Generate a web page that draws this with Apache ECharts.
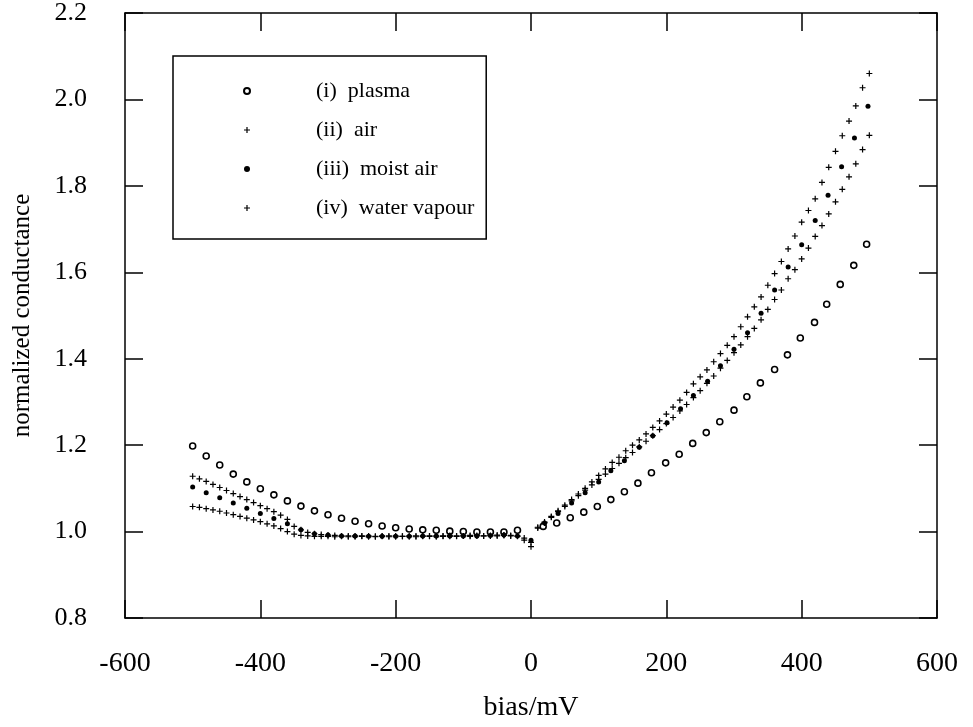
<!DOCTYPE html>
<html>
<head>
<meta charset="utf-8">
<script src="https://cdn.jsdelivr.net/npm/echarts@6/dist/echarts.min.js"></script>
<style>
	html, body { margin: 0; padding: 0; background: #fff; }
	#chart { width: 973px; height: 727px; }
</style>
</head>
<body>
<div id="chart"></div>
<script>
// bias (mV) and normalized conductance
const plasmaBias = [-500, -480, -460, -440, -420, -400, -380, -360, -340, -320, -300, -280, -260, -240, -220, -200, -180, -160, -140, -120, -100, -80, -60, -40, -20,
	18, 38, 58, 78, 98, 118, 138, 158, 178, 199, 219, 239, 259, 279, 300, 319, 339, 360, 379, 398, 419, 437, 457, 477, 496];
const plasmaG = [1.198, 1.175, 1.154, 1.133, 1.115, 1.099, 1.085, 1.071, 1.059, 1.048, 1.039, 1.031, 1.024, 1.018, 1.013, 1.009, 1.006, 1.004, 1.003, 1.001, 1.0, 0.999, 0.999, 0.999, 1.003,
	1.012, 1.02, 1.032, 1.045, 1.058, 1.074, 1.092, 1.112, 1.136, 1.159, 1.179, 1.204, 1.229, 1.254, 1.281, 1.312, 1.344, 1.375, 1.409, 1.448, 1.484, 1.526, 1.572, 1.616, 1.665];

const airBias = [-500, -490, -480, -470, -460, -450, -440, -430, -420, -410, -400, -390, -380, -370, -360, -350, -340, -330, -320, -310, -300, -290, -280, -270, -260, -250, -240, -230, -220, -210, -200, -190, -180, -170, -160, -150, -140, -130, -120, -110, -100, -90, -80, -70, -60, -50, -40, -30, -20, -10, 0,
	10, 20, 30, 40, 50, 60, 70, 80, 90, 100, 110, 120, 130, 140, 150, 160, 170, 180, 190, 200, 210, 220, 230, 240, 250, 260, 270, 280, 290, 300, 310, 320, 330, 340, 350, 360, 370, 380, 390, 400, 410, 420, 430, 440, 450, 460, 470, 480, 490, 500];
const airG = [1.058, 1.056, 1.053, 1.05, 1.047, 1.043, 1.039, 1.035, 1.031, 1.027, 1.023, 1.018, 1.013, 1.007, 1.0, 0.994, 0.991, 0.99, 0.989, 0.989, 0.989, 0.988, 0.989, 0.988, 0.988, 0.989, 0.988, 0.988, 0.989, 0.988, 0.988, 0.989, 0.988, 0.988, 0.989, 0.989, 0.988, 0.989, 0.989, 0.989, 0.99, 0.989, 0.99, 0.99, 0.99, 0.99, 0.991, 0.99, 0.989, 0.985, 0.975,
	1.008, 1.02, 1.033, 1.046, 1.058, 1.071, 1.083, 1.096, 1.108, 1.121, 1.133, 1.146, 1.158, 1.171, 1.183, 1.196, 1.209, 1.222, 1.236, 1.25, 1.264, 1.279, 1.294, 1.31, 1.326, 1.343, 1.36, 1.378, 1.396, 1.414, 1.432, 1.451, 1.47, 1.49, 1.514, 1.537, 1.559, 1.585, 1.606, 1.631, 1.656, 1.683, 1.708, 1.735, 1.763, 1.792, 1.821, 1.851, 1.884, 1.917];

const moistBias = [-500, -480, -460, -440, -420, -400, -380, -360, -340, -320, -300, -280, -260, -240, -220, -200, -180, -160, -140, -120, -100, -80, -60, -40, -20, 0,
	20, 40, 60, 80, 100, 118, 138, 160, 180, 201, 221, 240, 261, 280, 300, 320, 340, 360, 380, 400, 420, 439, 459, 478, 498];
const moistG = [1.103, 1.09, 1.078, 1.066, 1.054, 1.042, 1.03, 1.018, 1.004, 0.995, 0.992, 0.99, 0.99, 0.989, 0.989, 0.989, 0.989, 0.99, 0.99, 0.99, 0.99, 0.99, 0.991, 0.992, 0.99, 0.98,
	1.02, 1.042, 1.066, 1.09, 1.115, 1.141, 1.164, 1.195, 1.222, 1.252, 1.284, 1.315, 1.348, 1.384, 1.422, 1.46, 1.505, 1.559, 1.612, 1.664, 1.72, 1.778, 1.844, 1.911, 1.984];

const vapourBias = [-500, -490, -480, -470, -460, -450, -440, -430, -420, -410, -400, -390, -380, -370, -360, -350, -340, -330, -320, -310, -300, -290, -280, -270, -260, -250, -240, -230, -220, -210, -200, -190, -180, -170, -160, -150, -140, -130, -120, -110, -100, -90, -80, -70, -60, -50, -40, -30, -20, -10, 0,
	10, 20, 30, 40, 50, 60, 70, 80, 90, 100, 110, 120, 130, 140, 150, 160, 170, 180, 190, 200, 210, 220, 230, 240, 250, 260, 270, 280, 290, 300, 310, 320, 330, 340, 350, 360, 370, 380, 390, 400, 410, 420, 430, 440, 450, 460, 470, 480, 490, 500];
const vapourG = [1.128, 1.122, 1.116, 1.109, 1.102, 1.095, 1.088, 1.081, 1.074, 1.067, 1.06, 1.053, 1.046, 1.038, 1.028, 1.012, 1.004, 0.998, 0.995, 0.993, 0.992, 0.991, 0.99, 0.99, 0.99, 0.99, 0.99, 0.989, 0.99, 0.99, 0.99, 0.989, 0.99, 0.99, 0.99, 0.99, 0.99, 0.99, 0.991, 0.99, 0.99, 0.991, 0.991, 0.99, 0.991, 0.992, 0.992, 0.991, 0.99, 0.98, 0.965,
	1.01, 1.022, 1.035, 1.048, 1.061, 1.074, 1.087, 1.1, 1.115, 1.13, 1.145, 1.16, 1.172, 1.187, 1.2, 1.212, 1.226, 1.241, 1.256, 1.272, 1.288, 1.304, 1.322, 1.342, 1.358, 1.374, 1.393, 1.412, 1.431, 1.451, 1.474, 1.497, 1.52, 1.543, 1.57, 1.597, 1.625, 1.654, 1.684, 1.716, 1.743, 1.77, 1.808, 1.843, 1.88, 1.916, 1.95, 1.985, 2.027, 2.06];

const seriesNames = ['(i)  plasma', '(ii)  air', '(iii)  moist air', '(iv)  water vapour'];
const xTicks = { min: -600, max: 600, interval: 200 };
const yTicks = { min: 0.8, max: 2.2, interval: 0.2 };

const SERIF = '"Liberation Serif", "DejaVu Serif", serif';
const PLUS = 'path://M4,0 L6,0 L6,4 L10,4 L10,6 L6,6 L6,10 L4,10 L4,6 L0,6 L0,4 L4,4 Z';

const pairs = (xs, ys) => xs.map((x, i) => [x, ys[i]]);

const tick = { show: true, inside: true, length: 18, lineStyle: { color: '#000', width: 1.5 } };
const line = { show: true, onZero: false, lineStyle: { color: '#000', width: 1.5 } };

const chart = echarts.init(document.getElementById('chart'), null, { renderer: 'canvas' });

chart.setOption({
	backgroundColor: '#fff',
	animation: false,
	grid: { left: 125, right: 36, top: 12, bottom: 104 },
	legend: {
		orient: 'vertical',
		left: 173,
		top: 56,
		padding: [24, 12, 20, 70],
		itemWidth: 6,
		itemHeight: 6,
		itemGap: 17,
		borderColor: '#000',
		borderWidth: 1.5,
		textStyle: { fontFamily: SERIF, fontSize: 22, color: '#000', padding: [0, 0, 0, 61] },
		data: seriesNames,
	},
	xAxis: [
		{
			type: 'value', ...xTicks,
			axisLine: line, axisTick: tick, splitLine: { show: false },
			axisLabel: { color: '#000', fontFamily: SERIF, fontSize: 28, margin: 32 },
			name: 'bias/mV', nameLocation: 'middle', nameGap: 76,
			nameTextStyle: { color: '#000', fontFamily: SERIF, fontSize: 28 },
		},
		{
			type: 'value', position: 'top', ...xTicks,
			axisLine: line, axisTick: tick, splitLine: { show: false }, axisLabel: { show: false },
		},
	],
	yAxis: [
		{
			type: 'value', ...yTicks,
			axisLine: line, axisTick: tick, splitLine: { show: false },
			axisLabel: { color: '#000', fontFamily: SERIF, fontSize: 26, margin: 38, formatter: (v) => v.toFixed(1) },
			name: 'normalized conductance', nameLocation: 'middle', nameGap: 90,
			nameTextStyle: { color: '#000', fontFamily: SERIF, fontSize: 25 },
		},
		{
			type: 'value', position: 'right', ...yTicks,
			axisLine: line, axisTick: tick, splitLine: { show: false }, axisLabel: { show: false },
		},
	],
	series: [
		{
			name: seriesNames[0], type: 'scatter', symbol: 'circle', symbolSize: 6,
			itemStyle: { color: '#fff', borderColor: '#000', borderWidth: 1.6, opacity: 1 },
			data: pairs(plasmaBias, plasmaG),
		},
		{
			name: seriesNames[1], type: 'scatter', symbol: PLUS, symbolSize: 6,
			itemStyle: { color: '#000', opacity: 1 },
			data: pairs(airBias, airG),
		},
		{
			name: seriesNames[2], type: 'scatter', symbol: 'circle', symbolSize: 5,
			itemStyle: { color: '#000', opacity: 1 },
			data: pairs(moistBias, moistG),
		},
		{
			name: seriesNames[3], type: 'scatter', symbol: PLUS, symbolSize: 6,
			itemStyle: { color: '#000', opacity: 1 },
			data: pairs(vapourBias, vapourG),
		},
	],
});
</script>
</body>
</html>
